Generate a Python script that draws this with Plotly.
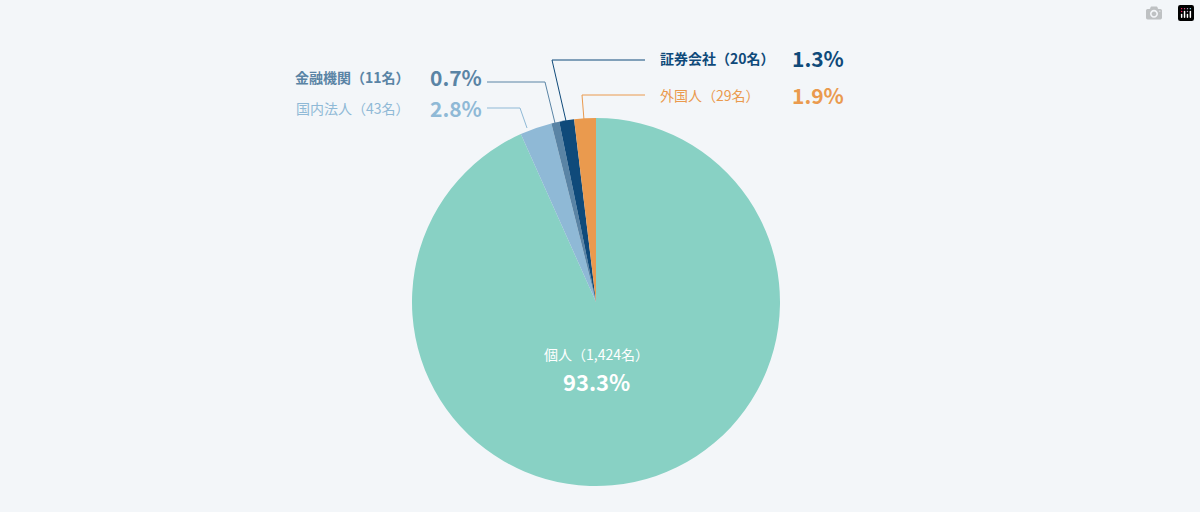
import plotly.graph_objects as go

W, H = 1200, 512

labels = ["外国人", "証券会社", "金融機関", "国内法人", "個人"]
counts = [29, 20, 11, 43, 1424]
shares = [1.9, 1.3, 0.7, 2.8, 93.3]
colors = ["#ea9a4e", "#0f4a7a", "#5a84a5", "#8fb9d6", "#88d1c4"]
font = "Noto Sans CJK JP"

# clockwise from 12 o'clock, big slice first so 外国人 ends at the top
order = [4, 3, 2, 1, 0]
fig = go.Figure(go.Pie(
    labels=[labels[i] for i in order], values=[shares[i] for i in order],
    sort=False, direction="clockwise", rotation=0,
    marker=dict(colors=[colors[i] for i in order], line=dict(width=0)),
    textinfo="none", hoverinfo="label+percent", showlegend=False,
    domain=dict(x=[(596 - 184) / W, (596 + 184) / W], y=[(512 - 486) / H, (512 - 118) / H]),
))


def px(x, y):
    return x / W, 1 - y / H


def leader(pts, color):
    path = "M " + " L ".join(f"{px(x, y)[0]},{px(x, y)[1]}" for x, y in pts)
    fig.add_shape(type="path", path=path, xref="paper", yref="paper",
                  line=dict(color=color, width=1))


def label(x, y, text, color, size, anchor, bold=False):
    fx, fy = px(x, y)
    fig.add_annotation(x=fx, y=fy, xref="paper", yref="paper", showarrow=False,
                       text=f"<b>{text}</b>" if bold else text, xanchor=anchor, yanchor="middle",
                       font=dict(family=font, size=size, color=color))


# right side
leader([(584, 120), (582, 95), (645, 95)], colors[0])
leader([(566, 121), (552, 60), (645, 60)], colors[1])
# left side
leader([(555, 123), (545, 82), (487, 82)], colors[2])
leader([(527, 128), (520, 108), (487, 108)], colors[3])

pos = {
    0: (658, 95, "left", 790),
    1: (658, 58, "left", 790),
    2: (412, 77, "right", 428),
    3: (412, 108, "right", 428),
}
for i, (nx, ny, anc, sx) in pos.items():
    label(nx, ny, f"{labels[i]}（{counts[i]}名）", colors[i], 14, anc, bold=(i in (1, 2)))
    label(sx, ny, f"{shares[i]}%", colors[i], 21, "left", bold=True)

label(596, 354, f"{labels[4]}（{counts[4]:,}名）", "white", 14, "center")
label(596, 381, f"{shares[4]}%", "white", 22, "center", bold=True)

fig.update_layout(width=W, height=H, margin=dict(l=0, r=0, t=0, b=0),
                  paper_bgcolor="#f3f6f9", plot_bgcolor="#f3f6f9")
fig.write_html("out.html", post_script="document.body.style.margin='0';document.body.style.background='#f3f6f9';")
